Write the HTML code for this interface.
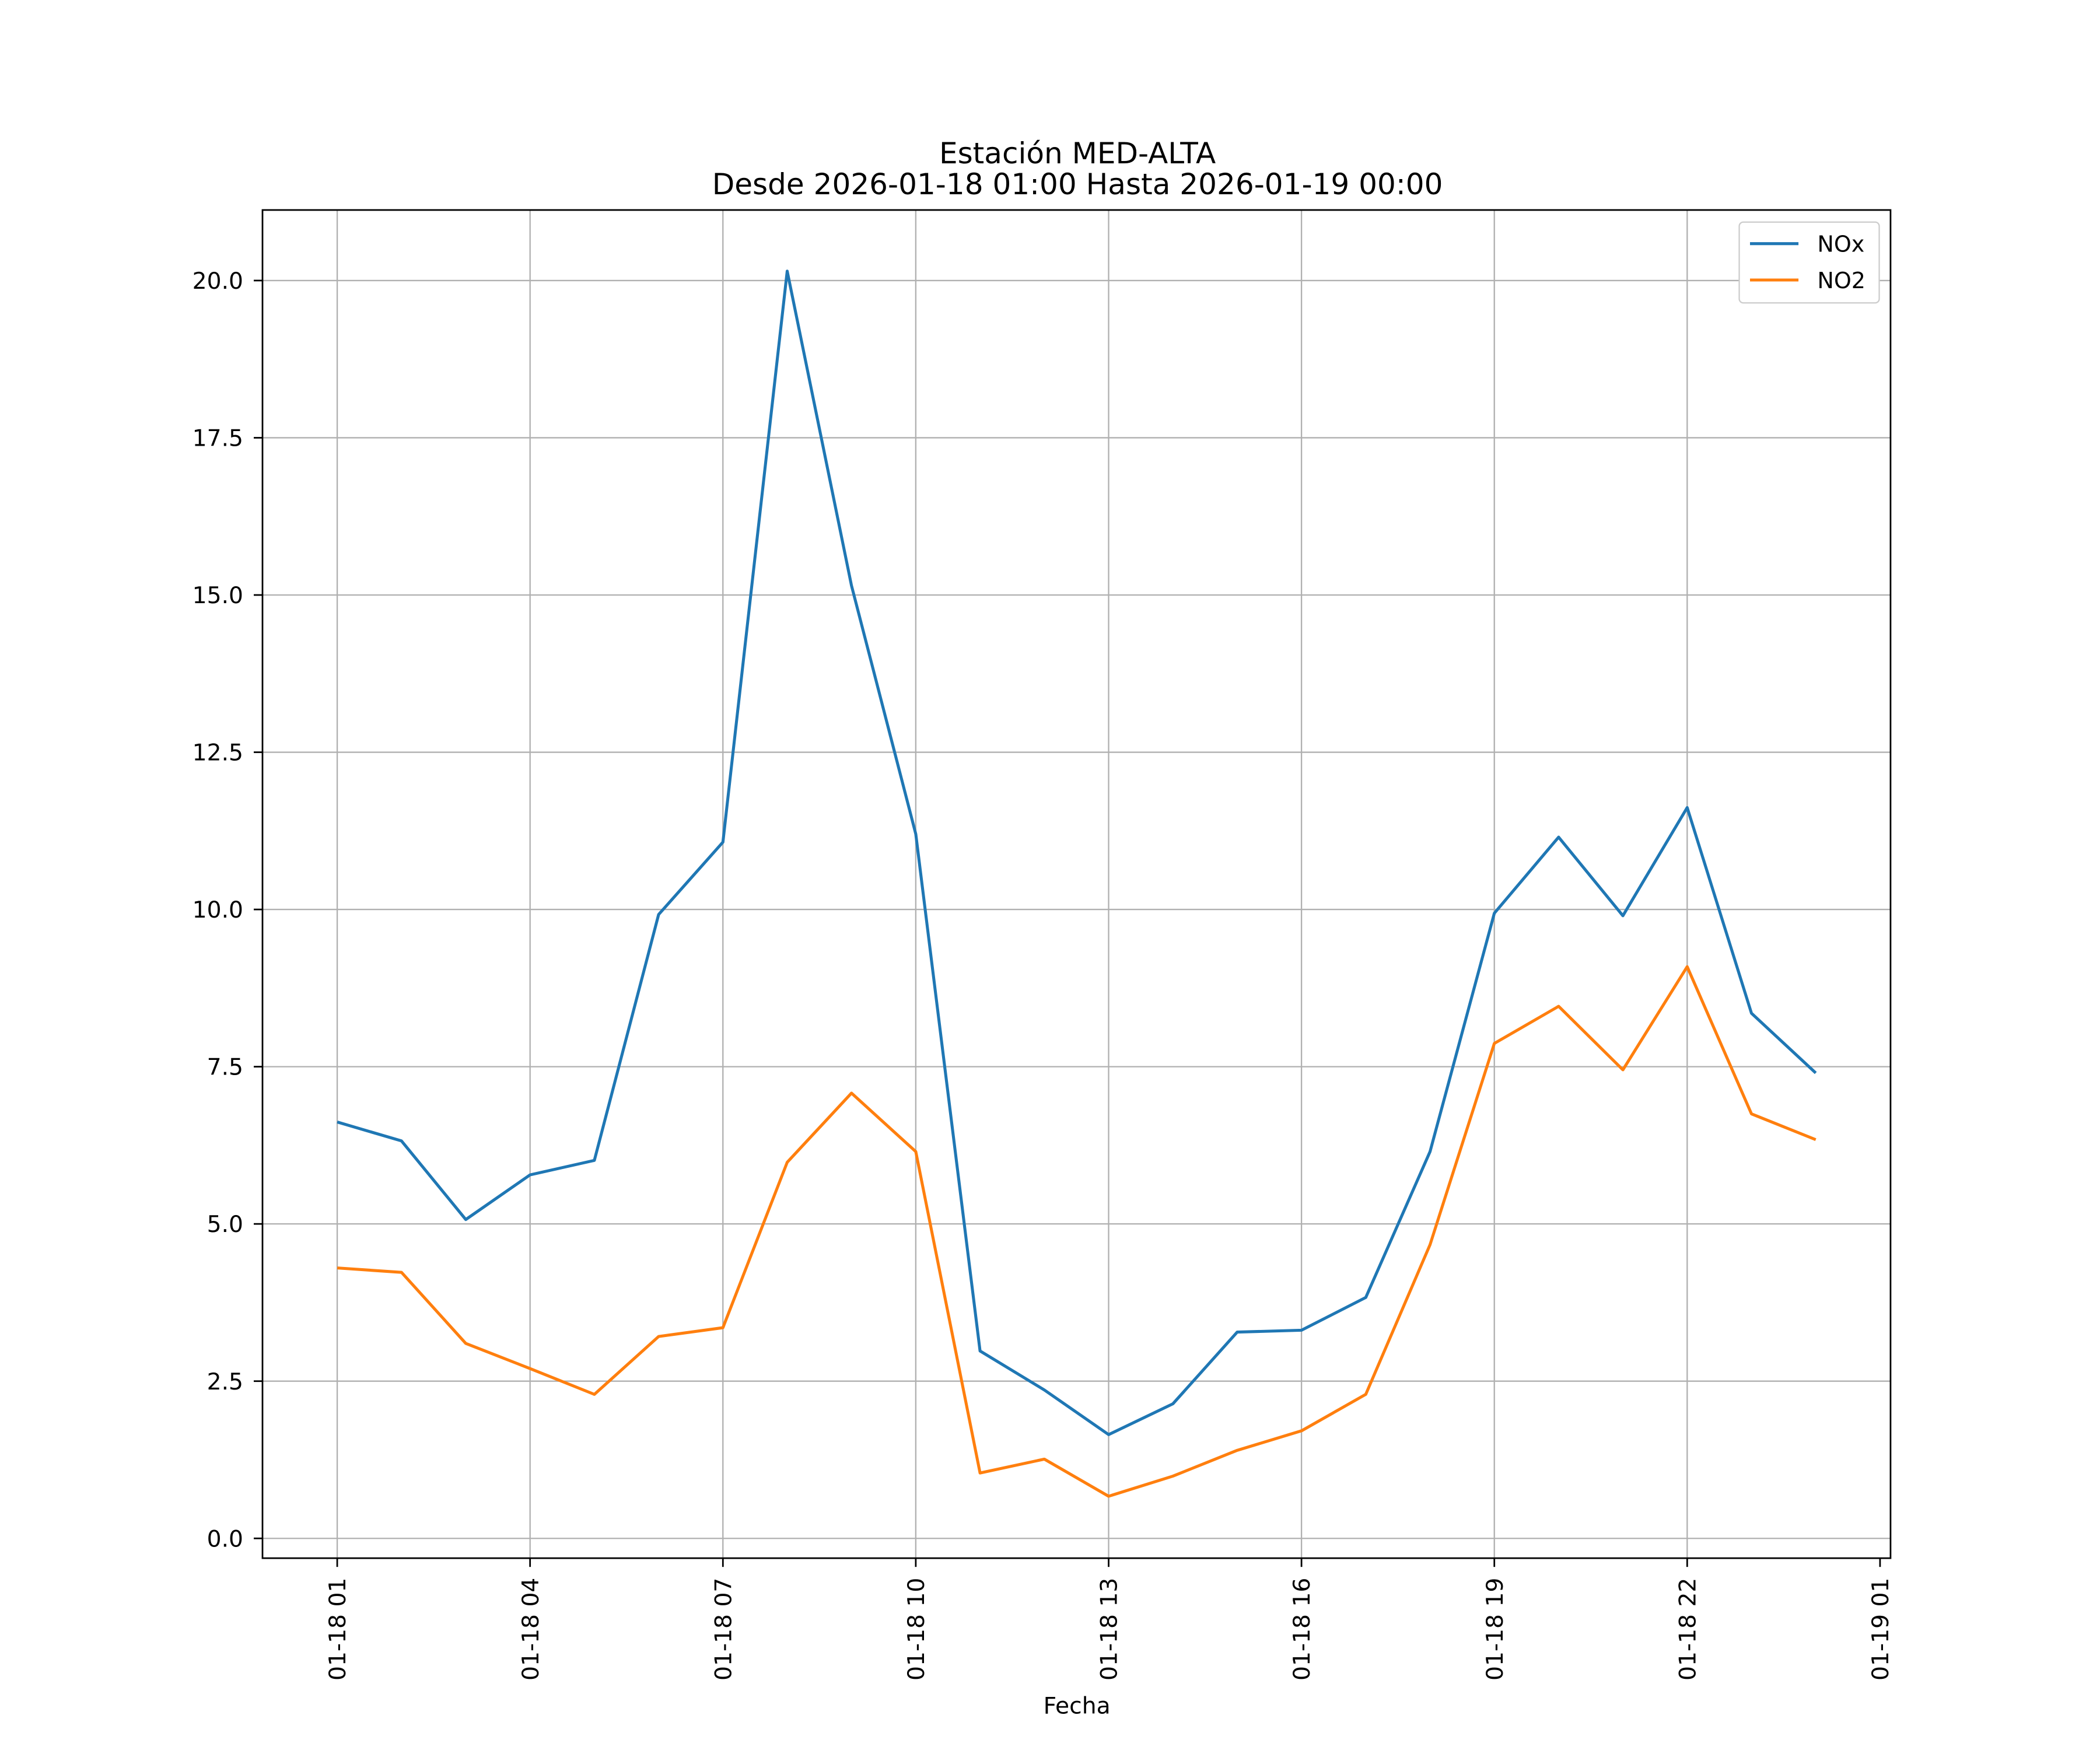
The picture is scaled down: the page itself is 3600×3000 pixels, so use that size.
<!DOCTYPE html>
<html><head><meta charset="utf-8"><style>
html,body{margin:0;padding:0;background:#fff}
svg{display:block;font-family:"DejaVu Sans","Liberation Sans",sans-serif}
</style></head><body>
<svg id="chart" width="3600" height="3000" viewBox="0 0 1560 1300" xmlns="http://www.w3.org/2000/svg">
<rect width="1560" height="1300" fill="#fff"/>
<text x="800.4" y="121.3" font-size="21.7" text-anchor="middle">Estación MED-ALTA</text>
<text x="800.4" y="144.4" font-size="21.7" text-anchor="middle">Desde 2026-01-18 01:00 Hasta 2026-01-19 00:00</text>
<g id="grid"></g>
<g id="series"></g>
<rect x="195" y="156" width="1209.4" height="1001.5" fill="none" stroke="#000" stroke-width="1.2"/>
<g id="ticks"></g>
<text x="800" y="1273" font-size="17" text-anchor="middle">Fecha</text>
<g>
<rect x="1292" y="165" width="104" height="60" rx="3" fill="#fff" stroke="#ccc"/>
<line x1="1300" y1="181" x2="1336" y2="181" stroke="#1f77b4" stroke-width="2.2"/>
<text x="1350" y="187" font-size="16.5">NOx</text>
<line x1="1300" y1="208" x2="1336" y2="208" stroke="#ff7f0e" stroke-width="2.2"/>
<text x="1350" y="214" font-size="16.5">NO2</text>
</g>
</svg>
<script>
const hours = [1,2,3,4,5,6,7,8,9,10,11,12,13,14,15,16,17,18,19,20,21,22,23,24];
const noxValues = [6.62,6.32,5.07,5.78,6.01,9.92,11.07,20.15,15.15,11.2,2.98,2.36,1.65,2.14,3.28,3.31,3.83,6.15,9.94,11.15,9.9,11.62,8.35,7.4];
const no2Values = [4.3,4.23,3.1,2.7,2.29,3.21,3.35,5.98,7.08,6.15,1.04,1.26,0.67,0.99,1.4,1.71,2.29,4.67,7.87,8.46,7.45,9.09,6.75,6.34];
const yTicks = [0,2.5,5,7.5,10,12.5,15,17.5,20];
const yTickLabels = ["0.0","2.5","5.0","7.5","10.0","12.5","15.0","17.5","20.0"];
const xTicks = [1,4,7,10,13,16,19,22,25];
const xTickLabels = ["01-18 01","01-18 04","01-18 07","01-18 10","01-18 13","01-18 16","01-18 19","01-18 22","01-19 01"];

const NS="http://www.w3.org/2000/svg";
const xs = h => 250.5 + (h-1)*(1396.6-250.5)/24;
const ys = v => 1142.8 - v*(1142.8-208.4)/20;
function mk(tag, attrs, parent){const e=document.createElementNS(NS,tag);for(const k in attrs)e.setAttribute(k,attrs[k]);parent.appendChild(e);return e;}
const grid=document.getElementById('grid'), ticks=document.getElementById('ticks'), series=document.getElementById('series');
yTicks.forEach((v,i)=>{
  const y=ys(v);
  const g=mk('line',{x1:195,x2:1404.4,y1:y,y2:y,stroke:'#b0b0b0','stroke-width':1},grid);
  
  
  mk('line',{x1:188.5,x2:195,y1:y,y2:y,stroke:'#000','stroke-width':1.2},ticks);
  const t=mk('text',{x:180.7,y:y+6.1,'font-size':17,'text-anchor':'end'},ticks);
  t.textContent=yTickLabels[i];
  
  
});
xTicks.forEach((h,i)=>{
  const x=xs(h);
  if(h<=24){const g=mk('line',{x1:x,x2:x,y1:156,y2:1157.5,stroke:'#b0b0b0','stroke-width':1},grid);
  
  }
  mk('line',{x1:x,x2:x,y1:1157.5,y2:1164,stroke:'#000','stroke-width':1.2},ticks);
  const t=mk('text',{x:0,y:0,'font-size':17,'text-anchor':'end',transform:`translate(${x+6.1},1172) rotate(-90)`},ticks);
  t.textContent=xTickLabels[i];
  
  
});
function line(vals,color,name){
  const p=mk('polyline',{points:vals.map((v,i)=>xs(hours[i])+','+ys(v)).join(' '),fill:'none',stroke:color,'stroke-width':2.2,'stroke-linejoin':'round'},series);
  
  
}
line(noxValues,'#1f77b4','nox-line');
line(no2Values,'#ff7f0e','no2-line');
</script>
</body></html>
